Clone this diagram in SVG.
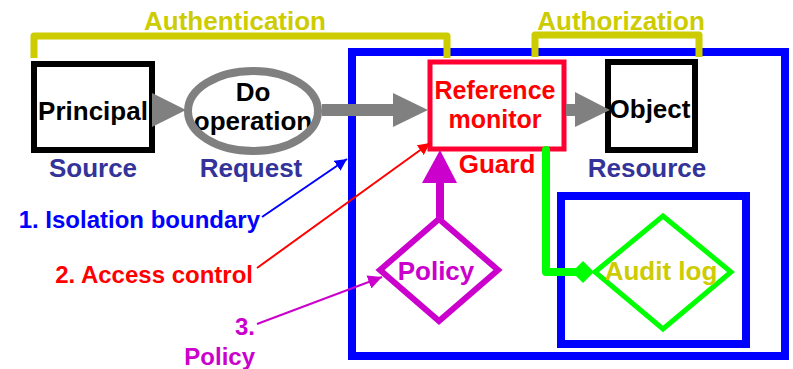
<svg xmlns="http://www.w3.org/2000/svg" width="793" height="369" viewBox="0 0 793 369">
<style>
text{font-family:"Liberation Sans",Arial,sans-serif;font-weight:bold;font-size:26px;text-anchor:middle}
.ann{font-size:24px}
.rm{font-size:25px}
.navy{fill:#333399}
.bracket{fill:none;stroke:#CCCC00;stroke-width:7;stroke-linejoin:round}
.gray{fill:#808080}
</style>
<defs>
<marker id="hb" markerUnits="userSpaceOnUse" viewBox="0 0 10 10" refX="10" refY="5" markerWidth="12" markerHeight="12" orient="auto"><path d="M0,0L10,5L0,10z" fill="#0000FF"/></marker>
<marker id="hr" markerUnits="userSpaceOnUse" viewBox="0 0 10 10" refX="10" refY="5" markerWidth="12" markerHeight="12" orient="auto"><path d="M0,0L10,5L0,10z" fill="#FF0000"/></marker>
<marker id="hm" markerUnits="userSpaceOnUse" viewBox="0 0 10 10" refX="10" refY="5" markerWidth="14" markerHeight="14" orient="auto"><path d="M0,0L10,5L0,10z" fill="#CC00CC"/></marker>
</defs>
<rect width="793" height="369" fill="#fff"/>

<g id="isolation-boundary">
<rect x="352" y="52" width="433" height="304" fill="none" stroke="#0000FF" stroke-width="8"/>
</g>

<g id="authentication">
<path class="bracket" d="M34,58V36H447V58"/>
<text x="235" y="30" fill="#CCCC00">Authentication</text>
</g>
<g id="authorization">
<path class="bracket" d="M535,57V35H699V57"/>
<text x="621" y="30" fill="#CCCC00">Authorization</text>
</g>

<g id="principal">
<rect x="34" y="64" width="118" height="86" fill="#fff" stroke="#000" stroke-width="6"/>
<text x="93" y="120" fill="#000">Principal</text>
<text x="93" y="177" class="navy">Source</text>
</g>

<g id="request">
<ellipse cx="253" cy="111" rx="65" ry="40" fill="#fff"/>
<text x="253" y="101" fill="#000">Do</text>
<text x="253" y="130" fill="#000">operation</text>
<ellipse cx="253" cy="111" rx="65" ry="40" fill="none" stroke="#808080" stroke-width="8"/>
<text x="251" y="177" class="navy">Request</text>
</g>

<g id="reference-monitor">
<rect x="430" y="62" width="134" height="87" fill="#fff" stroke="#FF0033" stroke-width="5"/>
<text x="495" y="99" class="rm" fill="#FF0000">Reference</text>
<text x="495" y="128" class="rm" fill="#FF0000">monitor</text>
<text x="497" y="173" fill="#FF0000">Guard</text>
</g>

<g id="object">
<rect x="608" y="62" width="87" height="88" fill="#fff" stroke="#000" stroke-width="6"/>
<text x="650" y="118" fill="#000">Object</text>
<text x="647" y="177" class="navy">Resource</text>
</g>

<g id="audit-box">
<rect x="561" y="196" width="185" height="148" fill="none" stroke="#0000FF" stroke-width="8"/>
</g>

<g id="policy">
<polygon points="380,270 439,219 498,270 439,321" fill="#fff" stroke="#CC00CC" stroke-width="6"/>
<text x="436" y="280" fill="#CC00CC">Policy</text>
</g>

<g id="audit-log">
<polygon points="595,272 663,216 731,272 663,329" fill="none" stroke="#00FF00" stroke-width="5"/>
<text x="661" y="280" fill="#CCCC00">Audit log</text>
</g>

<g id="connectors">
<polygon class="gray" points="152,93 152,127 186,110"/>
<path d="M322,110H394" stroke="#808080" stroke-width="12"/>
<polygon class="gray" points="393,93 393,127 428,110"/>
<path d="M566,110H576" stroke="#808080" stroke-width="12"/>
<polygon class="gray" points="575,92 575,127 610,110"/>
<path d="M440,219V182" stroke="#CC00CC" stroke-width="8"/>
<polygon points="422,183 457,183 440,150" fill="#CC00CC"/>
<path d="M546,150V272H578" fill="none" stroke="#00FF00" stroke-width="8" stroke-linejoin="round" stroke-linecap="round"/>
<polygon points="572,272 583,261 594,272 583,283" fill="#00FF00"/>
<path d="M262,217L347,159" stroke="#0000FF" stroke-width="2" marker-end="url(#hb)"/>
<path d="M257,268L430,143" stroke="#FF0000" stroke-width="2" marker-end="url(#hr)"/>
<path d="M257,324L382,277" stroke="#CC00CC" stroke-width="2" marker-end="url(#hm)"/>
</g>

<g id="annotations">
<text x="260" y="228" class="ann" fill="#0000FF" style="text-anchor:end">1. Isolation boundary</text>
<text x="253" y="283" class="ann" fill="#FF0000" style="text-anchor:end">2. Access control</text>
<text x="255" y="335" class="ann" fill="#CC00CC" style="text-anchor:end">3.</text>
<text x="255" y="365" class="ann" fill="#CC00CC" style="text-anchor:end">Policy</text>
</g>
</svg>
